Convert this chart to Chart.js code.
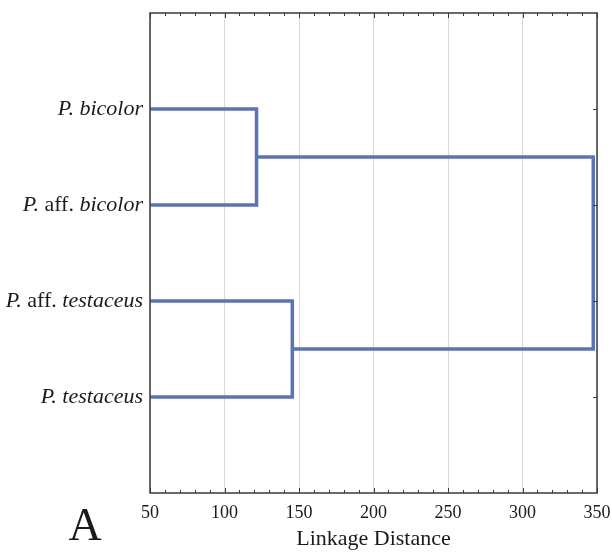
<!DOCTYPE html>
<html>
<head>
<meta charset="utf-8">
<script src="https://cdn.jsdelivr.net/npm/chart.js@4/dist/chart.umd.min.js"></script>
<style>
  html, body { margin: 0; padding: 0; background: #fff; }
  #wrap { width: 612px; height: 552px; position: relative; }
</style>
</head>
<body>
<div id="wrap"><canvas id="dendro" width="612" height="552"></canvas></div>
<script>
// leaves, top to bottom; each label split into [text, italic] parts
var leaves = [
    [['P.', true], [' ', false], ['bicolor', true]],
    [['P.', true], [' aff. ', false], ['bicolor', true]],
    [['P.', true], [' aff. ', false], ['testaceus', true]],
    [['P.', true], [' ', false], ['testaceus', true]]
];
var leafPos = [1, 2, 3, 4];

// linkage distances of the joins
var joinBicolor = 121.5;
var joinTestaceus = 145.5;
var joinRoot = 347.5;

var xMin = 50, xMax = 350;
var xTicks = [50, 100, 150, 200, 250, 300, 350];

var lineColor = '#5a73b3';
var frameColor = '#3a3a3a';
var serif = '"Liberation Serif", "Times New Roman", serif';

function segment(points){
    return {
        data: points.map(function(p){ return {x: p[0], y: p[1]}; }),
        showLine: true,
        borderColor: lineColor,
        borderWidth: 3.5,
        pointRadius: 0,
        fill: false,
        borderJoinStyle: 'miter',
        borderCapStyle: 'butt'
    };
}

var datasets = [
    segment([[xMin, leafPos[0]], [joinBicolor, leafPos[0]], [joinBicolor, leafPos[1]], [xMin, leafPos[1]]]),
    segment([[xMin, leafPos[2]], [joinTestaceus, leafPos[2]], [joinTestaceus, leafPos[3]], [xMin, leafPos[3]]]),
    segment([[joinBicolor, (leafPos[0] + leafPos[1]) / 2], [joinRoot, (leafPos[0] + leafPos[1]) / 2],
             [joinRoot, (leafPos[2] + leafPos[3]) / 2], [joinTestaceus, (leafPos[2] + leafPos[3]) / 2]])
];

// frame, inward ticks, leaf names and the panel letter
var decorations = {
    id: 'decorations',
    afterDraw: function(chart){
        var ctx = chart.ctx;
        var a = chart.chartArea;
        var xs = chart.scales.x, ys = chart.scales.y;
        ctx.save();
        ctx.strokeStyle = frameColor;
        ctx.lineWidth = 1.5;
        ctx.strokeRect(a.left, a.top, a.right - a.left, a.bottom - a.top);

        ctx.lineWidth = 1;
        for (var v = xMin; v <= xMax; v += 10) {
            var px = Math.round(xs.getPixelForValue(v)) + 0.5;
            var len = (v % 50 === 0) ? 5 : 3;
            ctx.beginPath();
            ctx.moveTo(px, a.bottom); ctx.lineTo(px, a.bottom - len);
            ctx.moveTo(px, a.top); ctx.lineTo(px, a.top + len);
            ctx.stroke();
        }
        leafPos.forEach(function(p){
            var py = Math.round(ys.getPixelForValue(p)) + 0.5;
            ctx.beginPath();
            ctx.moveTo(a.right, py); ctx.lineTo(a.right - 4, py);
            ctx.stroke();
        });

        // leaf names, right aligned against the axis
        ctx.fillStyle = '#1a1a1a';
        ctx.textBaseline = 'middle';
        leaves.forEach(function(parts, i){
            var y = ys.getPixelForValue(leafPos[i]);
            var x = a.left - 7;
            for (var k = parts.length - 1; k >= 0; k--) {
                ctx.font = (parts[k][1] ? 'italic ' : '') + '22px ' + serif;
                var w = ctx.measureText(parts[k][0]).width;
                x -= w;
                ctx.textAlign = 'left';
                ctx.fillText(parts[k][0], x, y);
            }
        });

        ctx.font = '46px ' + serif;
        ctx.textAlign = 'center';
        ctx.textBaseline = 'alphabetic';
        ctx.fillText('A', 85, 540);
        ctx.restore();
    }
};

var chart = new Chart('dendro', {
    type: 'scatter',
    data: { datasets: datasets },
    options: {
        responsive: false,
        animation: false,
        events: [],
        layout: { padding: { top: 13, right: 15, left: 0, bottom: 0 } },
        plugins: { legend: { display: false }, tooltip: { enabled: false } },
        scales: {
            x: {
                type: 'linear',
                min: xMin,
                max: xMax,
                afterBuildTicks: function(scale){
                    scale.ticks = xTicks.map(function(v){ return {value: v}; });
                },
                afterFit: function(scale){
                    scale.height = 59;
                    scale.paddingLeft = 0;
                    scale.paddingRight = 0;
                },
                grid: { color: '#d9d9d9', lineWidth: 1, drawTicks: false },
                border: { display: false },
                ticks: { padding: 9, color: '#1a1a1a', font: { family: serif, size: 18 } },
                title: {
                    display: true,
                    text: 'Linkage Distance',
                    color: '#1a1a1a',
                    padding: { top: 0, bottom: 0 },
                    font: { family: serif, size: 22 }
                }
            },
            y: {
                type: 'linear',
                min: 0,
                max: 5,
                reverse: true,
                afterFit: function(scale){ scale.width = 150; },
                grid: { display: false },
                border: { display: false },
                ticks: { display: false }
            }
        }
    },
    plugins: [decorations]
});
</script>
</body>
</html>
